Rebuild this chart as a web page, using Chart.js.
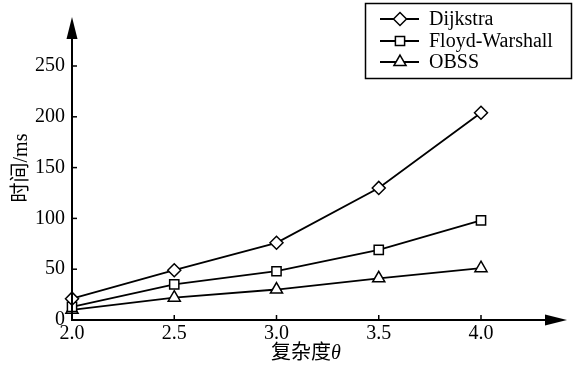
<!DOCTYPE html>
<html>
<head>
<meta charset="utf-8">
<script src="https://cdn.jsdelivr.net/npm/chart.js@4"></script>
<style>
  html, body { margin: 0; padding: 0; background: #fff; }
  canvas { display: block; }
</style>
</head>
<body>
<canvas id="c" width="575" height="370" style="width:575px;height:370px"></canvas>
<script>
// Runtime (ms) of three shortest-path algorithms versus complexity θ
const complexity = [2.0, 2.5, 3.0, 3.5, 4.0];
const dijkstra = [21, 49, 76, 130, 204];
const floydWarshall = [13, 35, 48, 69, 98];
const obss = [10, 22, 30, 41, 51];
const xTicks = [2.0, 2.5, 3.0, 3.5, 4.0];
const yTicks = [0, 50, 100, 150, 200, 250];
const seriesNames = ['Dijkstra', 'Floyd-Warshall', 'OBSS'];
const markerStyles = ['rectRot', 'rect', 'triangle'];
const markerSizes = [6.5, 6.5, 7];
const yTitle = '时间/ms';
const xTitleMain = '复杂度';
const xTitleSymbol = 'θ';

const SERIF = '"Liberation Serif", "Noto Sans CJK SC", serif';
const FONT_SIZE = 20;
const seriesValues = [dijkstra, floydWarshall, obss];

const datasets = seriesNames.map((name, i) => ({
  label: name,
  data: complexity.map((x, j) => ({ x: x, y: seriesValues[i][j] })),
  borderColor: '#000',
  borderWidth: 1.8,
  pointStyle: markerStyles[i],
  pointRadius: markerSizes[i],
  pointHoverRadius: markerSizes[i],
  pointBackgroundColor: '#fff',
  pointBorderColor: '#000',
  pointBorderWidth: 1.5,
  tension: 0,
  clip: false
}));

// Axis lines with arrowheads, inward tick marks, titles and the boxed legend
const decorations = {
  id: 'decorations',
  afterDatasetsDraw(chart) {
    const ctx = chart.ctx;
    const xs = chart.scales.x, ys = chart.scales.y;
    const x0 = xs.getPixelForValue(xTicks[0]);
    const y0 = ys.getPixelForValue(0);
    ctx.save();
    ctx.strokeStyle = '#000';
    ctx.fillStyle = '#000';
    ctx.lineWidth = 2;
    // y axis
    ctx.beginPath();
    ctx.moveTo(x0, y0 + 1);
    ctx.lineTo(x0, 36);
    ctx.stroke();
    ctx.beginPath();
    ctx.moveTo(x0, 17);
    ctx.lineTo(x0 - 5.5, 39);
    ctx.lineTo(x0 + 5.5, 39);
    ctx.closePath();
    ctx.fill();
    // x axis
    ctx.beginPath();
    ctx.moveTo(x0 - 1, y0);
    ctx.lineTo(548, y0);
    ctx.stroke();
    ctx.beginPath();
    ctx.moveTo(567, y0);
    ctx.lineTo(545, y0 - 5.5);
    ctx.lineTo(545, y0 + 5.5);
    ctx.closePath();
    ctx.fill();
    // tick marks
    ctx.lineWidth = 1.5;
    yTicks.slice(1).forEach(v => {
      const y = ys.getPixelForValue(v);
      ctx.beginPath();
      ctx.moveTo(x0, y);
      ctx.lineTo(x0 + 5, y);
      ctx.stroke();
    });
    xTicks.slice(1).forEach(v => {
      const x = xs.getPixelForValue(v);
      ctx.beginPath();
      ctx.moveTo(x, y0);
      ctx.lineTo(x, y0 - 5);
      ctx.stroke();
    });

    // y title
    ctx.font = FONT_SIZE + 'px ' + SERIF;
    ctx.textAlign = 'center';
    ctx.textBaseline = 'middle';
    ctx.save();
    ctx.translate(22, 168);
    ctx.rotate(-Math.PI / 2);
    ctx.fillText(yTitle, 0, 0);
    ctx.restore();

    // x title with italic theta
    ctx.font = FONT_SIZE + 'px ' + SERIF;
    const wMain = ctx.measureText(xTitleMain).width;
    ctx.font = 'italic ' + FONT_SIZE + 'px ' + SERIF;
    const wSym = ctx.measureText(xTitleSymbol).width;
    const startX = 306 - (wMain + wSym) / 2;
    ctx.textAlign = 'left';
    ctx.font = FONT_SIZE + 'px ' + SERIF;
    ctx.fillText(xTitleMain, startX, 354);
    ctx.font = 'italic ' + FONT_SIZE + 'px ' + SERIF;
    ctx.fillText(xTitleSymbol, startX + wMain, 354);

    // legend
    ctx.lineWidth = 1.5;
    ctx.strokeRect(365.5, 3.5, 206, 75);
    const rows = [19, 41, 62];
    chart.data.datasets.forEach((ds, i) => {
      const y = rows[i];
      ctx.strokeStyle = '#000';
      ctx.lineWidth = 1.8;
      ctx.beginPath();
      ctx.moveTo(380, y);
      ctx.lineTo(419, y);
      ctx.stroke();
      ctx.fillStyle = '#fff';
      ctx.lineWidth = 1.5;
      Chart.helpers.drawPoint(ctx, {
        pointStyle: ds.pointStyle,
        radius: ds.pointRadius,
        rotation: 0,
        borderWidth: 1.5
      }, 400, y);
      ctx.fillStyle = '#000';
      ctx.font = FONT_SIZE + 'px ' + SERIF;
      ctx.textAlign = 'left';
      ctx.textBaseline = 'middle';
      ctx.fillText(ds.label, 429, y + 1);
    });
    ctx.restore();
  }
};

new Chart(document.getElementById('c'), {
  type: 'line',
  data: { datasets: datasets },
  options: {
    responsive: false,
    animation: false,
    events: [],
    layout: { padding: { top: 66, right: 94, left: 0, bottom: 0 } },
    plugins: { legend: { display: false }, tooltip: { enabled: false } },
    scales: {
      x: {
        type: 'linear',
        min: xTicks[0],
        max: xTicks[xTicks.length - 1],
        afterBuildTicks: s => { s.ticks = xTicks.map(v => ({ value: v })); },
        afterFit: s => { s.height = 50; },
        grid: { display: false, drawTicks: false },
        border: { display: false },
        ticks: {
          color: '#000',
          padding: 2,
          maxRotation: 0,
          font: { family: SERIF, size: FONT_SIZE },
          callback: v => Number(v).toFixed(1)
        }
      },
      y: {
        type: 'linear',
        min: yTicks[0],
        max: yTicks[yTicks.length - 1],
        afterBuildTicks: s => { s.ticks = yTicks.map(v => ({ value: v })); },
        afterFit: s => { s.width = 72; },
        grid: { display: false, drawTicks: false },
        border: { display: false },
        ticks: {
          color: '#000',
          padding: 7,
          font: { family: SERIF, size: FONT_SIZE },
          callback: v => String(v)
        }
      }
    }
  },
  plugins: [decorations]
});
</script>
</body>
</html>
